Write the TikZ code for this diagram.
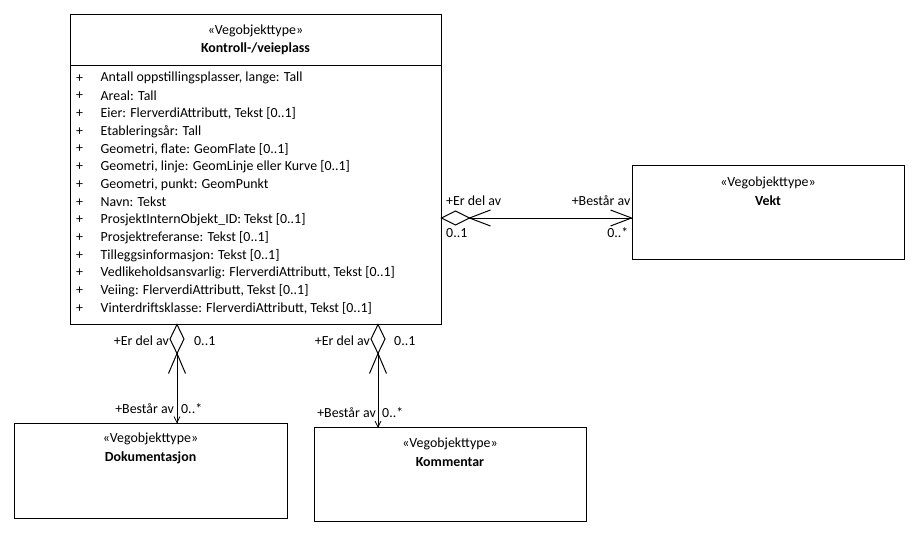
\documentclass[tikz,border=0pt]{standalone}
\usepackage{fontspec}
\setmainfont{Carlito}
\begin{document}
\begin{tikzpicture}[x=1pt,y=-1pt,
  umlbox/.style={draw=black,line width=1pt,fill=white,inner sep=0pt},
  conn/.style={draw=black,line width=1pt},
  lbl/.style={font=\fontsize{13.9}{16}\selectfont,inner sep=0pt},
  bold/.style={font=\fontsize{13.9}{16}\selectfont\bfseries,inner sep=0pt},
  attr/.style={font=\fontsize{13.9}{16}\selectfont,inner sep=0pt,anchor=west}]
\useasboundingbox (0,0) rectangle (922,538);

% classes
\node[umlbox,minimum width=371pt,minimum height=310pt] (main) at (255.5,169) {};
\draw[conn] (70,65) -- (441,65);
\node[lbl] (mainst) at (255.5,31) {«Vegobjekttype»};
\node[bold] (mainnm) at (255.5,48.5) {Kontroll-/veieplass};

\node[umlbox,minimum width=272pt,minimum height=94pt] (vekt) at (768,212) {};
\node[lbl] (vektst) at (768,183) {«Vegobjekttype»};
\node[bold] (vektnm) at (768,200.5) {Vekt};

\node[umlbox,minimum width=273pt,minimum height=95pt] (dok) at (150.5,470.5) {};
\node[lbl] (dokst) at (150.5,439) {«Vegobjekttype»};
\node[bold] (doknm) at (150.5,457.5) {Dokumentasjon};

\node[umlbox,minimum width=272pt,minimum height=94pt] (kom) at (450,474.5) {};
\node[lbl] (komst) at (450,444) {«Vegobjekttype»};
\node[bold] (komnm) at (450,462) {Kommentar};

% attributes
\foreach \t [count=\i from 0] in {
  {Antall oppstillingsplasser, lange: Tall},
  {Areal: Tall},
  {Eier: FlerverdiAttributt, Tekst [0..1]},
  {Etableringsår: Tall},
  {Geometri, flate: GeomFlate [0..1]},
  {Geometri, linje: GeomLinje eller Kurve [0..1]},
  {Geometri, punkt: GeomPunkt},
  {Navn: Tekst},
  {ProsjektInternObjekt\_ID: Tekst [0..1]},
  {Prosjektreferanse: Tekst [0..1]},
  {Tilleggsinformasjon: Tekst [0..1]},
  {Vedlikeholdsansvarlig: FlerverdiAttributt, Tekst [0..1]},
  {Veiing: FlerverdiAttributt, Tekst [0..1]},
  {Vinterdriftsklasse: FlerverdiAttributt, Tekst [0..1]}} {
  \node[attr] (plus\i) at (76,78.3+17.7*\i) {+};
  \node[attr] (attr\i) at (100.5,78.3+17.7*\i) {\t};
}

% association: Kontroll-/veieplass -- Vekt
\draw[conn] (main.east |- 0,218) coordinate (h1) -- (vekt.west |- 0,218) coordinate (h2);
\draw[conn,fill=white] (h1) -- ++(14,-7) -- ++(14,7) coordinate (h1d) -- ++(-14,7) -- cycle;
\draw[conn] ([shift={(21,-8)}]h1d) -- (h1d) -- ++(21,8);
\draw[conn] ([shift={(-21,-8)}]h2) -- (h2) -- ++(-21,8);
\node[lbl,anchor=west] (h1r) at (446,201) {+Er del av};
\node[lbl,anchor=west] (h1m) at (446,233) {0..1};
\node[lbl,anchor=east] (h2r) at (630.5,201) {+Består av};
\node[lbl,anchor=east] (h2m) at (628.5,233) {0..*};

% association: Kontroll-/veieplass -- Dokumentasjon
\draw[conn] (main.south -| 177,0) coordinate (v1) -- (dok.north -| 177,0) coordinate (v1e);
\draw[conn,fill=white] (v1) -- ++(7,14.5) -- ++(-7,14.5) coordinate (v1d) -- ++(-7,-14.5) -- cycle;
\draw[conn] ([shift={(-8.5,20)}]v1d) -- (v1d) -- ++(8.5,20);
\draw[conn,line width=0.8pt] ([shift={(-3,-6)}]v1e) -- (v1e) -- ++(3,-6);
\node[lbl,anchor=east] (v1r) at (169,341) {+Er del av};
\node[lbl,anchor=west] (v1m) at (194,341) {0..1};
\node[lbl,anchor=east] (v1br) at (174,409) {+Består av};
\node[lbl,anchor=west] (v1bm) at (181,409) {0..*};

% association: Kontroll-/veieplass -- Kommentar
\draw[conn] (main.south -| 378,0) coordinate (v2) -- (kom.north -| 378,0) coordinate (v2e);
\draw[conn,fill=white] (v2) -- ++(7,14.5) -- ++(-7,14.5) coordinate (v2d) -- ++(-7,-14.5) -- cycle;
\draw[conn] ([shift={(-8.5,20)}]v2d) -- (v2d) -- ++(8.5,20);
\draw[conn,line width=0.8pt] ([shift={(-3,-6)}]v2e) -- (v2e) -- ++(3,-6);
\node[lbl,anchor=east] (v2r) at (370,341) {+Er del av};
\node[lbl,anchor=west] (v2m) at (394,341) {0..1};
\node[lbl,anchor=east] (v2br) at (376,413) {+Består av};
\node[lbl,anchor=west] (v2bm) at (382,413) {0..*};
\end{tikzpicture}
\end{document}
